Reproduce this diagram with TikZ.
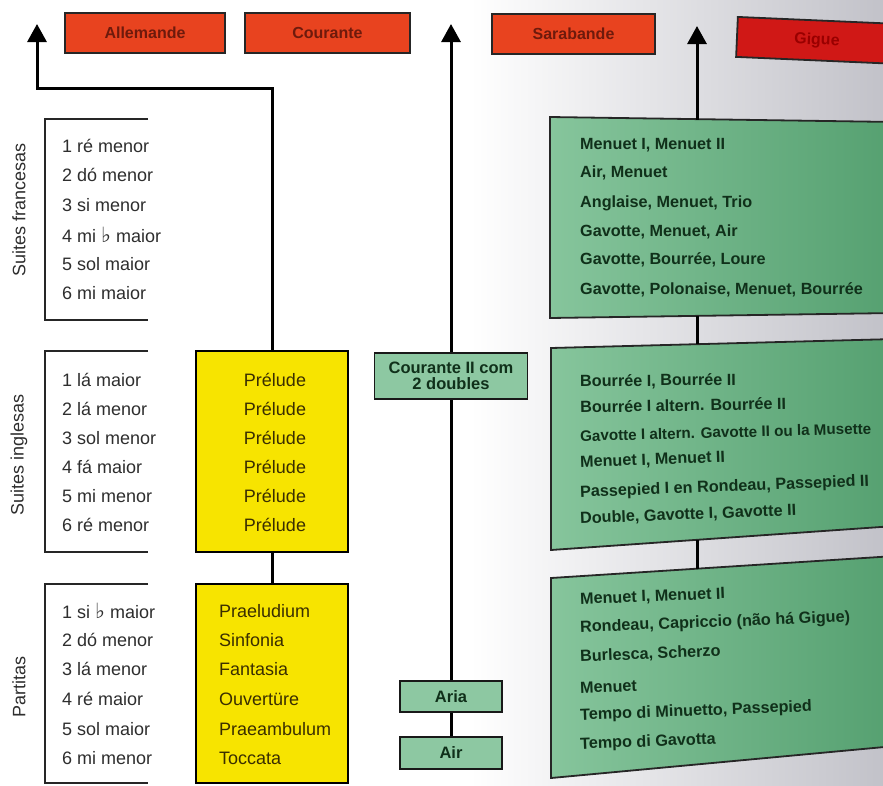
\documentclass[tikz,border=0pt]{standalone}
\usepackage{fontspec}
\setmainfont{Liberation Sans}
\newfontfamily\symfont{DejaVu Sans}
\usetikzlibrary{arrows.meta}
\definecolor{redfill}{HTML}{E8431F}
\definecolor{gigfill}{HTML}{D01816}
\definecolor{redtext}{HTML}{6E1A0C}
\definecolor{yelfill}{HTML}{F7E400}
\definecolor{yeltext}{HTML}{3A2E00}
\definecolor{lefttext}{HTML}{2E2E2E}
\definecolor{grnL}{HTML}{86C59C}
\definecolor{grnR}{HTML}{55A070}
\definecolor{grnsmall}{HTML}{8DC8A2}
\definecolor{grntext}{HTML}{10301A}
\definecolor{bggray}{HTML}{C2C2C9}
\newcommand{\flt}{{\symfont\fontsize{21}{21}\selectfont ♭}}
\tikzset{
  redb/.style={draw=black!85, line width=1.8pt, fill=redfill, text=redtext,
    font=\bfseries\fontsize{16}{18}\selectfont, minimum height=40pt, inner sep=0pt},
  yelb/.style={draw=black, line width=1.8pt, fill=yelfill, minimum width=152pt, inner sep=0pt},
  smallg/.style={draw=black!90, line width=1.8pt, fill=grnsmall, text=grntext,
    font=\bfseries\fontsize{16.5}{18.5}\selectfont, inner sep=0pt, align=center},
  lft/.style={anchor=west, text=lefttext, font=\fontsize{18}{20}\selectfont, inner sep=0pt},
  ylt/.style={text=yeltext, font=\fontsize{18}{20}\selectfont, inner sep=0pt},
  grt/.style={anchor=west, text=grntext, font=\bfseries\fontsize{16.2}{18}\selectfont, inner sep=0pt},
  side/.style={rotate=90, text=lefttext, font=\fontsize{18}{20}\selectfont, inner sep=0pt},
  brk/.style={line width=1.8pt, black!85},
  conn/.style={line width=3pt, black},
  arr/.style={line width=3pt, black, -{Triangle[length=18pt,width=19pt]}},
  gbox/.style={draw=black!85, line width=1.8pt, left color=grnL, right color=grnR}
}
\begin{document}
\begin{tikzpicture}[x=1pt,y=-1pt]
\useasboundingbox (0,0) rectangle (883,785);
\begin{scope}
\clip (0,0) rectangle (883,785);
% background (page curvature)
\fill[white] (0,0) rectangle (883,785);
\shade[left color=white, right color=bggray] (470,0) rectangle (883,785);

% coordinates for arrow ends and green box connectors
\coordinate (tip1) at (37,24);
\coordinate (bend1) at (37,88);
\coordinate (tip2) at (451,24);
\coordinate (tip3) at (697,26);
\coordinate (g1top) at (697,119.5);
\coordinate (g1bot) at (697,316);
\coordinate (g2top) at (697,344);
\coordinate (g2bot) at (697,540);
\coordinate (g3top) at (697,568.5);

% red header boxes
\node[redb, minimum width=160pt] (alle) at (145,33) {Allemande};
\node[redb, minimum width=165pt] (cour) at (327.5,33) {Courante};
\node[redb, minimum width=163pt] (sara) at (573.5,34) {Sarabande};
\node[redb, fill=gigfill, text=red!60!black, minimum width=160pt, rotate=-2.5,
      anchor=north west] (gigue) at (737,16) {Gigue};

% left brackets
\draw[brk] (148,119) -- (45,119) -- (45,320) -- (148,320);
\draw[brk] (148,351) -- (45,351) -- (45,552) -- (148,552);
\draw[brk] (148,584) -- (45,584) -- (45,783) -- (148,783);

\node[side] (lfr) at (19,210) {Suites francesas};
\node[side] (lin) at (19,455) {Suites inglesas};
\node[side] (lpa) at (19,687) {Partitas};

\node[lft] (f1) at (62,146) {1 ré menor};
\node[lft] (f2) at (62,175) {2 dó menor};
\node[lft] (f3) at (62,205) {3 si menor};
\node[lft] (f4) at (62,235) {4 mi \flt\ maior};
\node[lft] (f5) at (62,264) {5 sol maior};
\node[lft] (f6) at (62,293) {6 mi maior};

\node[lft] (e1) at (62,380) {1 lá maior};
\node[lft] (e2) at (62,409) {2 lá menor};
\node[lft] (e3) at (62,438) {3 sol menor};
\node[lft] (e4) at (62,467) {4 fá maior};
\node[lft] (e5) at (62,496) {5 mi menor};
\node[lft] (e6) at (62,525) {6 ré menor};

\node[lft] (p1) at (62,611) {1 si \flt\ maior};
\node[lft] (p2) at (62,640) {2 dó menor};
\node[lft] (p3) at (62,669) {3 lá menor};
\node[lft] (p4) at (62,699) {4 ré maior};
\node[lft] (p5) at (62,729) {5 sol maior};
\node[lft] (p6) at (62,758) {6 mi menor};

% yellow boxes
\node[yelb, minimum height=201pt] (ya) at (272,451.5) {};
\node[yelb, minimum height=199pt] (yb) at (272,683.5) {};
\foreach \yy in {380,409,438,467,496,525}
  \node[ylt] at (275,\yy) {Prélude};
\node[ylt, anchor=west] (q1) at (219,611) {Praeludium};
\node[ylt, anchor=west] (q2) at (219,640) {Sinfonia};
\node[ylt, anchor=west] (q3) at (219,669) {Fantasia};
\node[ylt, anchor=west] (q4) at (219,699) {Ouvertüre};
\node[ylt, anchor=west] (q5) at (219,729) {Praeambulum};
\node[ylt, anchor=west] (q6) at (219,758) {Toccata};

% arrow 1
\draw[arr] (ya.north) |- (bend1) -- (tip1);
\draw[conn] (ya.south) -- (yb.north);

% middle column
\node[smallg, minimum width=102pt, minimum height=31pt] (aria) at (451,696.5) {Aria};
\node[smallg, minimum width=102pt, minimum height=32pt] (air) at (451,753) {Air};
\draw[arr] (aria.north) -- (tip2);
\draw[conn] (aria.south) -- (air.north);
\node[smallg, minimum width=153pt, minimum height=46pt] (cour2) at (451,376)
  {Courante II com\\[-2pt]2 doubles};

% green boxes
\draw[gbox] (550,117) -- (895,122) -- (895,313) -- (550,318) -- cycle;
\draw[gbox] (551,348) -- (895,339) -- (895,526) -- (551,550) -- cycle;
\draw[gbox] (551,578) -- (895,556) -- (895,746) -- (551,778) -- cycle;

\draw[arr] (g1top) -- (tip3);
\draw[conn] (g1bot) -- (g2top);
\draw[conn] (g2bot) -- (g3top);

\node[grt] (a1) at (580,145) {Menuet I, Menuet II};
\node[grt] (a2) at (580,173) {Air, Menuet};
\node[grt] (a3) at (580,203) {Anglaise, Menuet, Trio};
\node[grt] (a4) at (580,232) {Gavotte, Menuet, Air};
\node[grt] (a5) at (580,260) {Gavotte, Bourrée, Loure};
\node[grt] (a6) at (580,290) {Gavotte, Polonaise, Menuet, Bourrée};

\node[grt, rotate=0.5] (b1) at (580,382) {Bourrée I, Bourrée II};
\node[grt, rotate=1] (b2) at (580,407) {Bourrée I altern. Bourrée II};
\node[grt, rotate=1.5, font=\bfseries\fontsize{15.2}{17}\selectfont] (b3) at (580,436) {Gavotte I altern. Gavotte II ou la Musette};
\node[grt, rotate=2] (b4) at (580,463) {Menuet I, Menuet II};
\node[grt, rotate=2.2] (b5) at (580,493) {Passepied I en Rondeau, Passepied II};
\node[grt, rotate=2.2] (b6) at (580,519) {Double, Gavotte I, Gavotte II};

\node[grt, rotate=2.2] (c1) at (580,600) {Menuet I, Menuet II};
\node[grt, rotate=2.2] (c2) at (580,628) {Rondeau, Capriccio (não há Gigue)};
\node[grt, rotate=2.2] (c3) at (580,657) {Burlesca, Scherzo};
\node[grt, rotate=2.2] (c4) at (580,688) {Menuet};
\node[grt, rotate=2.2] (c5) at (580,716) {Tempo di Minuetto, Passepied};
\node[grt, rotate=2.2] (c6) at (580,745) {Tempo di Gavotta};
\end{scope}
\end{tikzpicture}
\end{document}
